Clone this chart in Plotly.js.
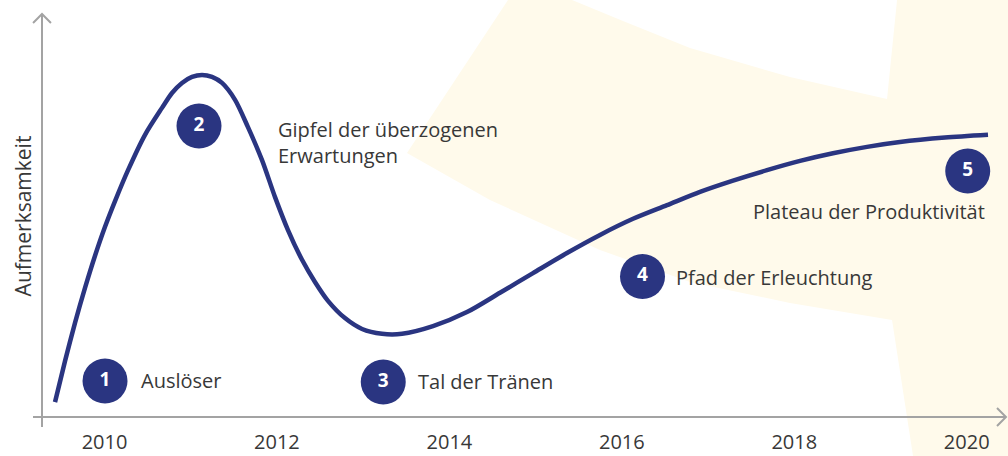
<!DOCTYPE html>
<html><head><meta charset="utf-8">
<script src="https://cdn.plot.ly/plotly-3.0.1.min.js"></script>
<style>html,body{margin:0;padding:0;background:#fff;}#chart{width:1008px;height:456px;}</style>
</head><body><div id="chart"></div>
<script>
// ---- data ----
const curveYears = [2009.426, 2009.542, 2009.658, 2009.774, 2009.890, 2010.006, 2010.122, 2010.273, 2010.470, 2010.667, 2010.783, 2010.899, 2011.015, 2011.131, 2011.247, 2011.363, 2011.514, 2011.664, 2011.827, 2011.978, 2012.128, 2012.291, 2012.441, 2012.592, 2012.789, 2012.987, 2013.219, 2013.451, 2013.810, 2014.204, 2014.587, 2014.970, 2015.364, 2015.747, 2016.130, 2016.524, 2016.907, 2017.290, 2017.684, 2018.067, 2018.449, 2018.844, 2019.226, 2019.748, 2020.247];
const curveAttention = [3.7, 13.9, 23.4, 32.1, 40.1, 47.3, 53.7, 61.4, 70.2, 76.9, 80.6, 83.1, 84.6, 85.1, 84.6, 83.1, 78.9, 72.1, 63.9, 54.7, 46.5, 39.1, 33.6, 28.9, 24.6, 21.9, 20.7, 20.7, 22.6, 26.1, 30.9, 35.8, 40.8, 45.3, 49.3, 52.7, 56.0, 58.8, 61.4, 63.7, 65.6, 67.2, 68.4, 69.5, 70.2];
const tickYears = [2010, 2012, 2014, 2016, 2018, 2020];
const tickLabels = ['2010', '2012', '2014', '2016', '2018', '2020'];
const phaseNumbers = ['1', '2', '3', '4', '5'];
const phaseYears = [2010.006, 2011.096, 2013.233, 2016.240, 2020.012];
const phaseLevels = [8.96, 72.39, 8.71, 34.95, 61.19];
const phaseLabels = ['Auslöser', 'Gipfel der überzogenen<br>Erwartungen', 'Tal der Tränen', 'Pfad der Erleuchtung', 'Plateau der Produktivität'];
const labelYears = [2010.400, 2011.989, 2013.613, 2016.605, 2020.235];
const labelLevels = [8.96, 68.2, 8.71, 34.8, 51.2];
const labelAnchors = ['left', 'left', 'left', 'left', 'right'];
const yAxisTitle = 'Aufmerksamkeit';

// ---- layout geometry ----
const W = 1008, H = 456, ML = 42, MR = 3, MT = 15, MB = 39;
const PW = W - ML - MR, PH = H - MT - MB;
const px = (x, y) => [(x - ML) / PW, (H - MB - y) / PH];
const pathFrom = (pts, close) => pts.map((p, i) => { const q = px(p[0], p[1]); return (i ? 'L' : 'M') + q[0].toFixed(4) + ',' + q[1].toFixed(4); }).join(' ') + (close ? ' Z' : '');

const navy = '#2a3581';
const grey = '#a3a3a3';
const textCol = '#383838';
const FONT = 'Open Sans, sans-serif';

const bgPts = [[508,0],[407,153],[490,200],[600,250],[690,282],[790,303],[892,320],[913,456],[1010,456],[1010,0],[897,0],[887,99],[790,77],[690,48],[623,21],[572,0]];

const shapes = [
  {type:'path', xref:'paper', yref:'paper', path: pathFrom(bgPts, true), fillcolor:'#fffaeb', line:{width:0}, layer:'below'},
  {type:'line', xref:'paper', yref:'paper', x0:px(33,417)[0], y0:0, x1:px(1006,417)[0], y1:0, line:{color:grey, width:2}},
  {type:'line', xref:'paper', yref:'paper', x0:0, y0:px(42,427)[1], x1:0, y1:px(42,14)[1], line:{color:grey, width:2}},
  {type:'path', xref:'paper', yref:'paper', path: pathFrom([[33,23],[42,14],[51,23]], false), line:{color:grey, width:2}},
  {type:'path', xref:'paper', yref:'paper', path: pathFrom([[997,408],[1006,417],[997,426]], false), line:{color:grey, width:2}}
];

const annotations = phaseLabels.map((t, i) => ({
  x: labelYears[i], y: labelLevels[i], xref:'x', yref:'y', text: t, showarrow:false,
  xanchor: labelAnchors[i], yanchor:'middle', align: labelAnchors[i],
  font:{family:FONT, size:20, color:textCol}
}));

const traces = [
  {type:'scatter', mode:'lines', x: curveYears, y: curveAttention, line:{color:navy, width:4.5, shape:'spline', smoothing:0.8}, hoverinfo:'skip', showlegend:false},
  {type:'scatter', mode:'markers+text', x: phaseYears, y: phaseLevels, text: phaseNumbers, textposition:'middle center',
   marker:{size:45, color:navy, line:{width:0}}, textfont:{family:FONT, size:19, color:'#ffffff', weight:700}, hoverinfo:'skip', showlegend:false}
];

const layout = {
  width: W, height: H,
  margin: {l:ML, r:MR, t:MT, b:MB, pad:0},
  paper_bgcolor:'#ffffff', plot_bgcolor:'rgba(0,0,0,0)',
  font:{family:FONT, color:textCol},
  showlegend:false,
  xaxis:{range:[2010 - (104.5 - ML) / 86.22, 2010 + (W - MR - 104.5) / 86.22], tickvals: tickYears, ticktext: tickLabels,
         showgrid:false, zeroline:false, showline:false, ticks:'', ticklabelstandoff:11, tickfont:{family:FONT, size:20, color:textCol}, fixedrange:true},
  yaxis:{range:[0,100], showgrid:false, zeroline:false, showline:false, ticks:'', showticklabels:false,
         title:{text:yAxisTitle, font:{family:FONT, size:21, color:textCol}, standoff:3}, fixedrange:true},
  shapes: shapes,
  annotations: annotations
};

Plotly.newPlot('chart', traces, layout, {displayModeBar:false, staticPlot:true});
</script>
</body></html>
